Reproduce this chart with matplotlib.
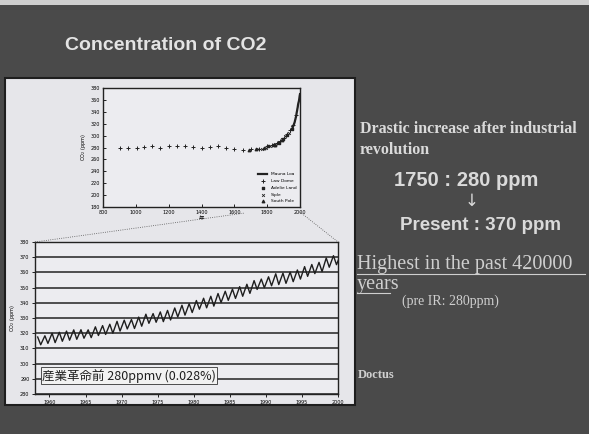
import matplotlib.pyplot as plt
from matplotlib.patches import Rectangle
from matplotlib.lines import Line2D

# ice core records (top inset)
law_dome_year = [905, 950, 1010, 1050, 1100, 1150, 1200, 1250, 1300, 1350, 1400, 1450,
                 1500, 1550, 1600, 1650, 1700, 1750, 1800, 1830, 1860, 1880, 1900, 1920,
                 1940, 1960, 1978]
law_dome_co2 = [279, 280, 279, 281, 282, 280, 283, 283, 282, 281, 280, 281,
                282, 280, 277, 276, 277, 278, 282, 284, 287, 291, 296, 302,
                310, 317, 334]
adelie_year = [1806, 1840, 1870, 1895, 1920, 1950]
adelie_co2 = [283, 285, 288, 294, 301, 311]
siple_year = [1744, 1770, 1794, 1820, 1847, 1873, 1891, 1910, 1930, 1953]
siple_co2 = [277, 278, 280, 283, 286, 289, 294, 299, 305, 315]
south_pole_year = [1690, 1730, 1780, 1850, 1890]
south_pole_co2 = [276, 277, 279, 285, 292]

# Mauna Loa annual means
ml_year = [1958, 1960, 1962, 1964, 1966, 1968, 1970, 1972, 1974, 1976, 1978, 1980,
           1982, 1984, 1986, 1988, 1990, 1992, 1994, 1996, 1998, 2000]
ml_co2 = [315.3, 316.9, 318.5, 319.6, 321.4, 323.0, 325.7, 327.5, 330.2, 332.0, 335.4,
          338.8, 341.5, 344.9, 347.6, 351.7, 354.5, 356.5, 359.0, 362.7, 366.8, 369.7]

# Mauna Loa seasonal peaks (May) and troughs (Oct), 1958-2000
cycle_years = list(range(1958, 2001))
peaks = [317.5, 318.3, 320.0, 320.6, 321.4, 322.2, 322.3, 322.2, 324.2, 325.0, 325.9,
         327.8, 328.6, 329.0, 330.6, 332.5, 332.9, 334.0, 335.0, 336.6, 338.4, 339.4,
         341.5, 343.0, 344.3, 346.1, 347.6, 349.0, 350.6, 352.2, 354.6, 355.6, 357.1,
         359.1, 359.5, 360.2, 361.6, 363.8, 365.2, 366.6, 369.5, 371.0, 371.8]
troughs = [312.4, 313.3, 313.8, 314.7, 315.4, 316.0, 316.7, 317.1, 318.5, 319.2, 320.0,
           321.4, 322.8, 323.1, 324.6, 326.5, 327.2, 327.6, 328.7, 330.7, 331.9, 333.6,
           335.8, 336.7, 337.8, 340.2, 341.6, 342.9, 344.3, 346.2, 348.8, 349.9, 351.2,
           352.0, 352.8, 353.9, 355.6, 357.4, 359.2, 360.5, 363.4, 365.1, 366.2]

W, H = 589, 434


def rect(x0, y0, x1, y1):
    return [x0 / W, 1 - y1 / H, (x1 - x0) / W, (y1 - y0) / H]


fig = plt.figure(figsize=(W / 100, H / 100), dpi=100)
fig.patch.set_facecolor('#4a4a4a')
fig.patches.append(Rectangle((0, 1 - 5 / H), 1, 5 / H, transform=fig.transFigure,
                             facecolor='#cfcfcf', edgecolor='none', zorder=-2))
fig.patches.append(Rectangle((5 / W, 1 - 405 / H), 350 / W, 327 / H,
                             transform=fig.transFigure, facecolor='#e6e6ea',
                             edgecolor='#1e1e1e', lw=1.5, zorder=-2))

fig.text(65 / W, 1 - 46 / H, 'Concentration of CO2', ha='left', va='center',
         fontsize=14, weight='bold', color='#e4e4e4', family='Liberation Sans')

# top inset: 1000 years of CO2
ax1 = fig.add_axes(rect(103, 88, 300, 207))
ax1.set_facecolor('#ececf0')
ax1.plot(ml_year, ml_co2, color='#222222', lw=1.6, label='Mauna Loa')
ax1.scatter(law_dome_year, law_dome_co2, marker='+', s=7, lw=0.7, color='#222222',
            label='Law Dome')
ax1.scatter(adelie_year, adelie_co2, marker='s', s=3, color='#222222', label='Adelie Land')
ax1.scatter(siple_year, siple_co2, marker='x', s=4, lw=0.6, color='#222222', label='Siple')
ax1.scatter(south_pole_year, south_pole_co2, marker='^', s=3, color='#222222',
            label='South Pole')
ax1.set_xlim(800, 2000)
ax1.set_ylim(180, 380)
ax1.set_xticks(range(800, 2001, 200))
ax1.set_yticks(range(180, 381, 20))
ax1.tick_params(direction='in', labelsize=3.5, length=2, width=0.6, pad=2)
for s in ax1.spines.values():
    s.set_linewidth(1.0)
    s.set_color('#222222')
ax1.set_ylabel('CO$_2$ (ppm)', fontsize=3.5, labelpad=2)
ax1.set_xlabel('年', fontsize=4, labelpad=1, family=['Noto Sans CJK JP', 'DejaVu Sans'])
ax1.legend(loc='lower right', fontsize=3.2, frameon=False, handlelength=2,
           labelspacing=0.6, borderaxespad=0.4)

# bottom: Mauna Loa record
ax2 = fig.add_axes(rect(35, 242, 338, 394))
ax2.set_facecolor('#ececf0')
t, v = [], []
for yr, p, q in zip(cycle_years, peaks, troughs):
    t += [yr + 0.37, yr + 0.79]
    v += [p, q]
ax2.plot(t, v, color='#1e1e1e', lw=1.0)
ax2.set_xlim(1958, 2000)
ax2.set_ylim(280, 380)
ax2.set_xticks(range(1960, 2001, 5))
ax2.set_yticks(range(280, 381, 10))
ax2.yaxis.grid(True, color='#333333', lw=1.2)
ax2.set_axisbelow(True)
ax2.tick_params(labelsize=3.5, length=2, width=0.6, pad=2)
for s in ax2.spines.values():
    s.set_linewidth(1.0)
    s.set_color('#222222')
ax2.set_ylabel('CO$_2$ (ppm)', fontsize=3.5, labelpad=2)
ax2.text(1959, 292, '産業革命前 280ppmv (0.028%)', fontsize=9, color='#1e1e1e',
         va='center', family=['Noto Sans CJK JP', 'DejaVu Sans'],
         bbox=dict(facecolor='#f2f2f2', edgecolor='#333333', lw=0.6, pad=1.0))

# zoom connector lines
fig.lines.append(Line2D([35 / W, 245 / W], [1 - 242 / H, 1 - 213 / H],
                        transform=fig.transFigure, color='#555555', lw=0.6, ls=':'))
fig.lines.append(Line2D([300 / W, 338 / W], [1 - 212 / H, 1 - 242 / H],
                        transform=fig.transFigure, color='#555555', lw=0.6, ls=':'))

# right-hand notes
serif = 'Liberation Serif'
light = '#dadada'
fig.text(360 / W, 1 - 129 / H, 'Drastic increase after industrial', fontsize=11.5,
         family=serif, weight='bold', color=light, va='center')
fig.text(360 / W, 1 - 150 / H, 'revolution', fontsize=11.5, family=serif, weight='bold',
         color=light, va='center')
fig.text(466 / W, 1 - 181 / H, '1750 : 280 ppm', ha='center', va='center', fontsize=14.5,
         weight='bold', family='Liberation Sans', color=light)
fig.text(472 / W, 1 - 201 / H, '↓', ha='center', va='center', fontsize=12,
         family='DejaVu Sans', color=light)
fig.text(480 / W, 1 - 226 / H, 'Present : 370 ppm', ha='center', va='center',
         fontsize=13.5, weight='bold', family='Liberation Sans', color=light)
fig.text(357 / W, 1 - 265 / H, 'Highest in the past 420000', fontsize=14.5, family=serif,
         color='#cfcfcf', va='center')
fig.text(357 / W, 1 - 284 / H, 'years', fontsize=14.5, family=serif, color='#cfcfcf',
         va='center')
fig.lines.append(Line2D([357 / W, 585 / W], [1 - 274 / H, 1 - 274 / H],
                        transform=fig.transFigure, color='#cfcfcf', lw=0.8))
fig.lines.append(Line2D([357 / W, 390 / W], [1 - 293 / H, 1 - 293 / H],
                        transform=fig.transFigure, color='#cfcfcf', lw=0.8))
fig.text(402 / W, 1 - 301 / H, '(pre IR: 280ppm)', fontsize=10, family=serif,
         color='#cfcfcf', va='center')
fig.text(358 / W, 1 - 375 / H, 'Doctus', fontsize=9, family=serif, weight='bold',
         color='#cfcfcf', va='center')

fig.savefig('out.png', dpi=100, facecolor=fig.get_facecolor())
